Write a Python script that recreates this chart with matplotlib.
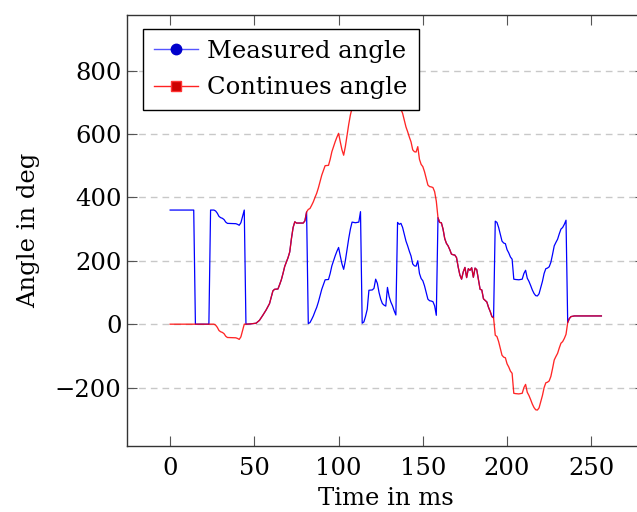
import numpy as np
import matplotlib
matplotlib.use("Agg")
import matplotlib.pyplot as plt
from matplotlib.lines import Line2D

# sample times (ms) shared by both series
time_ms = [
    0, 14, 15, 23, 24, 26, 27, 28, 29, 30, 31, 32, 33, 34, 39, 40, 41, 42, 43, 44,
    45, 48, 51, 53, 55, 57, 59, 60, 61, 62, 64, 65, 66, 67, 68, 70, 71, 72, 73, 74, 75, 79, 80, 81,
    82, 83, 84, 85, 86, 87, 88, 89, 90, 91, 92, 94, 95, 96, 97, 98, 99, 100, 101, 102, 103, 104,
    105, 106, 107, 108, 110, 112, 113,
    114, 115, 116, 117, 118, 120, 121, 122, 123, 124, 125, 126, 127, 128, 129, 130, 131, 132, 133, 134,
    135, 136, 137, 138, 139, 140, 141, 142, 143, 144, 145, 146, 147, 148, 149, 150, 151, 152, 153, 154,
    155, 156, 157, 158,
    159, 160, 161, 162, 163, 164, 165, 166, 167, 168, 169, 170, 171, 172, 173, 174, 175, 176, 177, 178,
    179, 180, 181, 182, 183, 184, 185, 186, 187, 188, 189, 190, 191, 192,
    193, 194, 195, 196, 197, 198, 199, 200, 201, 202, 203, 204, 205, 207, 209, 210, 211, 212, 213, 214,
    215, 216, 217, 218, 219, 220, 221, 222, 223, 224, 225, 226, 227, 228, 229, 230, 231, 232, 233, 234, 235,
    236, 237, 238, 240, 256,
]

# raw sensor reading, wraps at 0/360
measured_deg = [
    360, 360, 0, 0, 360, 360, 357, 350, 340, 336, 334, 330, 322, 318, 317, 315, 312, 320, 340, 360,
    0, 1, 3, 12, 28, 45, 65, 85, 105, 110, 111, 125, 140, 160, 182, 210, 228, 270, 305, 323, 319, 319, 326, 354,
    2, 5, 15, 26, 40, 53, 70, 90, 110, 125, 140, 141, 160, 184, 200, 216, 230, 242, 215, 190, 173, 200,
    235, 270, 300, 322, 320, 322, 355,
    3, 7, 25, 47, 107, 108, 113, 142, 129, 100, 79, 65, 60, 57, 116, 87, 70, 58, 42, 29,
    321, 315, 318, 305, 284, 262, 247, 230, 215, 190, 184, 183, 200, 160, 144, 137, 121, 100, 79, 74,
    73, 71, 58, 28,
    336, 321, 320, 300, 270, 255, 247, 235, 221, 219, 218, 210, 180, 155, 142, 165, 179, 147, 175, 170,
    178, 148, 177, 172, 142, 110, 108, 80, 75, 70, 53, 40, 24, 20,
    325, 321, 305, 284, 262, 256, 254, 235, 225, 212, 205, 142, 141, 140, 142, 160, 170, 145, 135, 122,
    108, 97, 90, 89, 96, 115, 135, 160, 175, 177, 181, 195, 220, 247, 258, 268, 285, 300, 305, 315, 328,
    5, 18, 24, 26, 26,
]

# unwrapped angle
continuous_deg = [
    0, 0, 0, 0, 0, 0, -3, -10, -20, -24, -26, -30, -38, -42, -43, -45, -48, -40, -20, 0,
    0, 1, 3, 12, 28, 45, 65, 85, 105, 110, 111, 125, 140, 160, 182, 210, 228, 270, 305, 323, 319, 319, 326, 354,
    362, 365, 375, 386, 400, 413, 430, 450, 470, 485, 500, 501, 520, 544, 560, 576, 590, 602, 575, 550, 533, 560,
    595, 630, 660, 682, 680, 682, 715,
    723, 727, 745, 767, 827, 828, 833, 862, 849, 820, 799, 785, 780, 777, 836, 807, 790, 778, 762, 749,
    681, 675, 678, 665, 644, 622, 607, 590, 575, 550, 544, 543, 560, 520, 504, 497, 481, 460, 439, 434,
    433, 431, 418, 388,
    336, 321, 320, 300, 270, 255, 247, 235, 221, 219, 218, 210, 180, 155, 142, 165, 179, 147, 175, 170,
    178, 148, 177, 172, 142, 110, 108, 80, 75, 70, 53, 40, 24, 20,
    -35, -39, -55, -76, -98, -104, -106, -125, -135, -148, -155, -218, -219, -220, -218, -200, -190, -215, -225, -238,
    -252, -263, -270, -271, -264, -245, -225, -200, -185, -183, -179, -165, -140, -113, -102, -92, -75, -60, -55, -45, -32,
    5, 18, 24, 26, 26,
]

series_labels = ["Measured angle", "Continues angle"]
x_ticks = [0, 50, 100, 150, 200, 250]
y_ticks = [-200, 0, 200, 400, 600, 800]

assert len(time_ms) == len(measured_deg) == len(continuous_deg)

plt.rcParams["font.family"] = ["DejaVu Serif"]
plt.rcParams["font.size"] = 17.5
plt.rcParams["axes.unicode_minus"] = True

fig = plt.figure(figsize=(6.37, 5.12), dpi=100)
ax = fig.add_axes([0.1994, 0.1289, 0.8124, 0.8418])

ax.plot(time_ms, measured_deg, color="#0000ff", lw=0.9, zorder=3)
ax.plot(time_ms, continuous_deg, color="#ff0000", lw=0.95, alpha=0.85, zorder=4)

# pgfplots-like 10% enlargement of the data range
ax.margins(x=0.1, y=0.1)

ax.set_xticks(x_ticks)
ax.set_yticks(y_ticks)
ax.yaxis.grid(True, color="#c8c8c8", linestyle=(0, (4.8, 3.6)), lw=1.0)
ax.set_axisbelow(True)

for s in ax.spines.values():
    s.set_color("#333333")
    s.set_linewidth(1.0)
ax.tick_params(direction="in", top=True, right=True, length=7, width=0.8, color="#555555")
ax.tick_params(axis="x", pad=8)
ax.tick_params(axis="y", pad=4)

ax.set_xlabel("Time in ms")
ax.set_ylabel("Angle in deg")
ax.xaxis.set_label_coords(0.5, -0.095)
ax.yaxis.set_label_coords(-0.168, 0.5)

handles = [
    Line2D([], [], color="#5555ff", lw=1.0, marker="o", markersize=7.5,
           markerfacecolor="#0000cc", markeredgecolor="#0000cc"),
    Line2D([], [], color="#ff2222", lw=1.0, marker="s", markersize=7.5,
           markerfacecolor="#cc0000", markeredgecolor="#ff3333"),
]
leg = ax.legend(handles, series_labels, loc="upper left", bbox_to_anchor=(0.031, 0.9675),
                borderaxespad=0, fancybox=False, framealpha=1, edgecolor="black",
                handlelength=1.8, handletextpad=0.4, borderpad=0.45, labelspacing=0.55)
leg.get_frame().set_linewidth(1.0)
leg.set_zorder(10)

fig.savefig("out.png", dpi=100)
